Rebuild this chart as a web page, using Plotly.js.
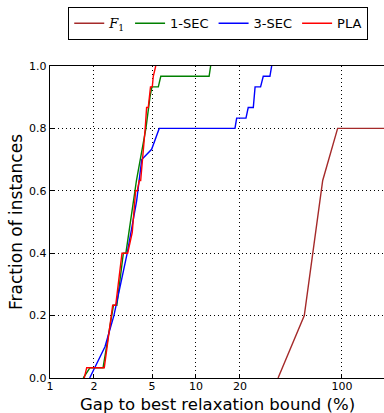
<!DOCTYPE html>
<html>
<head>
<meta charset="utf-8">
<script src="https://cdn.plot.ly/plotly-3.0.1.min.js"></script>
<style>html,body{margin:0;padding:0;background:#fff;}</style>
</head>
<body>
<div id="chart" style="width:384px;height:413px;"></div>
<script>
// Series: gap (%) vs fraction of instances
const f1X   = [36.5, 55.2, 73.8, 93.4, 200];
const f1Y   = [0.0, 0.2, 0.633, 0.8, 0.8];

const sec1X = [1.69, 1.88, 2.31, 2.72, 2.87, 3.18, 3.31, 3.91, 4.54, 4.71, 4.84, 4.99, 5.52, 5.74, 12.3, 12.6];
const sec1Y = [0.0, 0.033, 0.033, 0.233, 0.233, 0.4, 0.4, 0.633, 0.8, 0.867, 0.9, 0.933, 0.933, 0.967, 0.967, 1.0];

const sec3X = [1.87, 2.38, 2.74, 3.38, 3.92, 4.25, 4.97, 5.6, 18.5, 19.0, 22.0, 22.8, 24.7, 25.4, 27.7, 28.9, 32.1, 33.0];
const sec3Y = [0.0, 0.1, 0.2, 0.4, 0.567, 0.7, 0.733, 0.8, 0.8, 0.833, 0.833, 0.867, 0.867, 0.933, 0.933, 0.967, 0.967, 1.0];

const plaX  = [1.717, 1.784, 2.354, 2.688, 2.819, 3.113, 3.405, 3.53, 3.66, 3.86, 3.96, 4.09, 4.18, 4.49, 4.59, 4.71, 4.88, 5.02, 5.10, 5.30];
const plaY  = [0.0, 0.033, 0.033, 0.233, 0.233, 0.4, 0.4, 0.433, 0.467, 0.6, 0.6, 0.633, 0.633, 0.8, 0.867, 0.867, 0.933, 0.933, 0.967, 1.0];

const xTicks = [1, 2, 5, 10, 20, 100];
const xTickText = ['1', '2', '5', '10', '20', '100'];
const yTicks = [0, 0.2, 0.4, 0.6, 0.8, 1.0];
const yTickText = ['0.0', '0.2', '0.4', '0.6', '0.8', '1.0'];
const names = ['<span style="font-family:\'DejaVu Serif\'"><i>F</i><sub>1</sub></span>', '1-SEC', '3-SEC', 'PLA'];
const xTitle = 'Gap to best relaxation bound (%)';
const yTitle = 'Fraction of instances';

const lineW = 1.4;
const traces = [
  {x: f1X, y: f1Y, name: names[0], mode: 'lines', line: {color: '#a52a2a', width: lineW}},
  {x: sec1X, y: sec1Y, name: names[1], mode: 'lines', line: {color: '#008000', width: lineW}},
  {x: sec3X, y: sec3Y, name: names[2], mode: 'lines', line: {color: '#0000ff', width: lineW}},
  {x: plaX, y: plaY, name: names[3], mode: 'lines', line: {color: '#ff0000', width: lineW}}
];

const font = 'DejaVu Sans, sans-serif';
const gridDash = '1px,3px';
const layout = {
  width: 384, height: 413,
  margin: {l: 50, r: 0, t: 66, b: 35, pad: 0},
  paper_bgcolor: '#fff', plot_bgcolor: '#fff',
  font: {family: font, color: '#000', size: 11},
  showlegend: true,
  legend: {
    orientation: 'h', x: 0.054, y: 1.189, xanchor: 'left', yanchor: 'top',
    bordercolor: '#000', borderwidth: 1.2, bgcolor: '#fff',
    font: {family: font, size: 13, color: '#000'},
    itemwidth: 30, tracegroupgap: 0
  },
  xaxis: {
    type: 'log', range: [0, 2.288],
    tickmode: 'array', tickvals: xTicks, ticktext: xTickText,
    ticks: 'inside', ticklen: 4, tickcolor: '#000', ticklabelstandoff: -2,
    showline: true, linecolor: '#000', linewidth: 1.2, mirror: true,
    showgrid: true, gridcolor: '#000', gridwidth: 1, griddash: gridDash,
    zeroline: false,
    tickfont: {family: font, size: 11, color: '#000'}
  },
  yaxis: {
    range: [0, 1.0],
    tickmode: 'array', tickvals: yTicks, ticktext: yTickText,
    ticks: 'inside', ticklen: 4, tickcolor: '#000',
    showline: true, linecolor: '#000', linewidth: 1.2, mirror: false,
    showgrid: true, gridcolor: '#000', gridwidth: 1, griddash: gridDash,
    zeroline: false,
    tickfont: {family: font, size: 11, color: '#000'}
  },
  annotations: [
    {text: xTitle, xref: 'paper', yref: 'paper', x: 0.5, y: -0.0835, xanchor: 'center', yanchor: 'middle',
     showarrow: false, font: {family: font, size: 16.5, color: '#000'}},
    {text: yTitle, xref: 'paper', yref: 'paper', x: -0.102, y: 0.5, xanchor: 'center', yanchor: 'middle',
     textangle: -90, showarrow: false, font: {family: font, size: 17, color: '#000'}}
  ]
};

Plotly.newPlot('chart', traces, layout, {displayModeBar: false, staticPlot: true});
</script>
</body>
</html>
